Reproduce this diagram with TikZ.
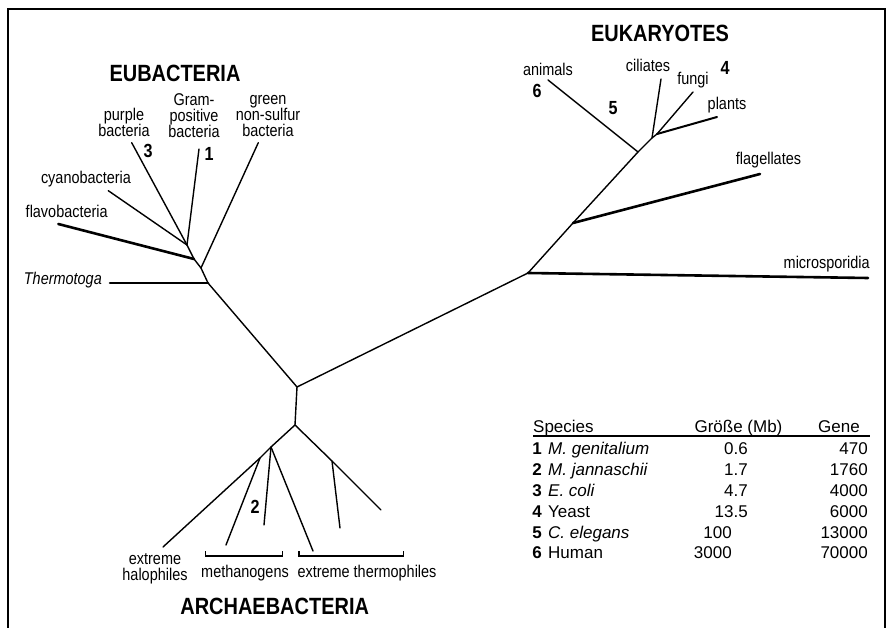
\documentclass[tikz,border=0pt]{standalone}
\usepackage{fontspec}
\setmainfont{Liberation Sans}
\newfontfamily\narrowsf{Liberation Sans}[FakeStretch=0.85]
\usetikzlibrary{positioning}

\begin{document}
\begin{tikzpicture}[x=1pt,y=-1pt,
  branch/.style={line width=1.4pt,line cap=round},
  heavy/.style={line width=2.6pt,line cap=round},
  lbl/.style={inner sep=0pt,align=center,font=\narrowsf\fontsize{17}{16}\selectfont},
  grp/.style={inner sep=0pt,font=\narrowsf\fontsize{23.5}{26}\selectfont\bfseries},
  num/.style={inner sep=0pt,font=\narrowsf\fontsize{19}{20}\selectfont\bfseries},
  tab/.style={inner sep=0pt,font=\fontsize{17}{20}\selectfont}]
\useasboundingbox (0,0) rectangle (892,628);
% frame, open at the bottom
\draw[line width=1.5pt] (8,628) -- (8,9) -- (885,9) -- (885,628);

% junctions and tips
\coordinate (root) at (297,387);
\coordinate (euA) at (187,245);
\coordinate (euB) at (194,259);
\coordinate (euC) at (201,268);
\coordinate (euD) at (208,283);
\coordinate (purple) at (131.7,142.7);
\coordinate (gram) at (199,149);
\coordinate (cyano) at (108.3,190.7);
\coordinate (flavo) at (58.3,224);
\coordinate (green) at (258.3,142.7);
\coordinate (thermo) at (110,283);
\coordinate (ek0) at (528,273);
\coordinate (ek1) at (573,223);
\coordinate (ek2) at (638,152);
\coordinate (ek3) at (652,138);
\coordinate (ek4) at (657,134);
\coordinate (micro) at (868,278);
\coordinate (flag) at (760,174);
\coordinate (anim) at (548,80);
\coordinate (cil) at (661,79);
\coordinate (fung) at (693,92);
\coordinate (plant) at (717,117);
\coordinate (ar0) at (295,425);
\coordinate (ar1) at (271,447);
\coordinate (ar2) at (260,458);
\coordinate (ar3) at (332,461);
\coordinate (halo) at (163,547);
\coordinate (meth1) at (226,545);
\coordinate (meth2) at (264,525);
\coordinate (xt1) at (313,551);
\coordinate (xt2) at (340,528);
\coordinate (xt3) at (381,510);

% eubacteria
\draw[branch] (purple) -- (euA);
\draw[branch] (gram) -- (euA);
\draw[branch] (cyano) -- (euA);
\draw[heavy] (flavo) -- (euB);
\draw[branch] (green) -- (euC);
\draw[heavy] (thermo) -- (euD);
\draw[branch] (euA) -- (euB) -- (euC) -- (euD) -- (root);
% eukaryotes
\draw[branch] (root) -- (ek0);
\draw[heavy] (ek0) -- (micro);
\draw[branch] (ek0) -- (ek1) -- (ek2) -- (ek3) -- (ek4);
\draw[heavy] (ek1) -- (flag);
\draw[branch] (ek2) -- (anim);
\draw[branch] (ek3) -- (cil);
\draw[branch] (ek4) -- (fung);
\draw[line width=2pt,line cap=round] (ek4) -- (plant);
% archaebacteria
\draw[branch] (root) -- (ar0);
\draw[branch] (ar0) -- (ar1) -- (ar2) -- (halo);
\draw[branch] (ar2) -- (meth1);
\draw[branch] (ar1) -- (meth2);
\draw[branch] (ar1) -- (xt1);
\draw[branch] (ar0) -- (ar3) -- (xt3);
\draw[branch] (ar3) -- (xt2);
\draw[line width=1.2pt] (205.7,551) -- (205.7,556) -- (282.3,556) -- (282.3,551);
\draw[line width=1.2pt] (299,551) -- (299,556) -- (403.3,556) -- (403.3,551);

% labels
\node[grp] (eubac) at (175,73) {EUBACTERIA};
\node[grp] (eukar) at (660,33) {EUKARYOTES};
\node[grp] (archae) at (274.7,606) {ARCHAEBACTERIA};
\node[lbl] (lpurple) at (124,122) {purple\\bacteria};
\node[lbl] (lgram) at (194,116) {Gram-\\positive\\bacteria};
\node[lbl] (lgreen) at (268,116) {green\\non-sulfur\\bacteria};
\node[lbl] (lcyano) at (86,179.3) {cyanobacteria};
\node[lbl] (lflavo) at (66.7,211.7) {flavobacteria};
\node[lbl,anchor=east] (lthermo) at (102,280) {\itshape Thermotoga};
\node[lbl] (lanim) at (548,69) {animals};
\node[lbl] (lcil) at (648,65) {ciliates};
\node[lbl] (lfung) at (693,80) {fungi};
\node[lbl] (lplant) at (727,105) {plants};
\node[lbl] (lflag) at (768.5,159.7) {flagellates};
\node[lbl] (lmicro) at (826.7,264) {microsporidia};
\node[lbl] (lhalo) at (155,569) {extreme\\halophiles};
\node[lbl] (lmeth) at (245,573) {methanogens};
\node[lbl] (lxt) at (367,573) {extreme thermophiles};
\node[num] (n3) at (148,151) {3};
\node[num] (n1) at (209,154) {1};
\node[num] (n6) at (537,91) {6};
\node[num] (n5) at (613,108) {5};
\node[num] (n4) at (725,68) {4};
\node[num] (n2) at (255,507) {2};

% table
\node[tab,anchor=base west] (hsp) at (533,432) {Species};
\node[tab,anchor=base] (hsz) at (738.5,432) {Größe (Mb)};
\node[tab,anchor=base east] (hge) at (860,432) {Gene};
\draw[line width=1.5pt] (533,436) -- (870,436);
\node[tab,anchor=base] (r1n) at (537,454.5) {\bfseries 1};
\node[tab,anchor=base west] (r1s) at (548,454.5) {\itshape M. genitalium};
\node[tab,anchor=base east] (r1z) at (748,454.5) {0.6};
\node[tab,anchor=base east] (r1g) at (868,454.5) {470};
\node[tab,anchor=base] (r2n) at (537,475.5) {\bfseries 2};
\node[tab,anchor=base west] (r2s) at (548,475.5) {\itshape M. jannaschii};
\node[tab,anchor=base east] (r2z) at (748,475.5) {1.7};
\node[tab,anchor=base east] (r2g) at (868,475.5) {1760};
\node[tab,anchor=base] (r3n) at (537,496) {\bfseries 3};
\node[tab,anchor=base west] (r3s) at (548,496) {\itshape E. coli};
\node[tab,anchor=base east] (r3z) at (748,496) {4.7};
\node[tab,anchor=base east] (r3g) at (868,496) {4000};
\node[tab,anchor=base] (r4n) at (537,517) {\bfseries 4};
\node[tab,anchor=base west] (r4s) at (548,517) {Yeast};
\node[tab,anchor=base east] (r4z) at (748,517) {13.5};
\node[tab,anchor=base east] (r4g) at (868,517) {6000};
\node[tab,anchor=base] (r5n) at (537,538) {\bfseries 5};
\node[tab,anchor=base west] (r5s) at (548,538) {\itshape C. elegans};
\node[tab,anchor=base east] (r5z) at (732,538) {100};
\node[tab,anchor=base east] (r5g) at (868,538) {13000};
\node[tab,anchor=base] (r6n) at (537,558) {\bfseries 6};
\node[tab,anchor=base west] (r6s) at (548,558) {Human};
\node[tab,anchor=base east] (r6z) at (732,558) {3000};
\node[tab,anchor=base east] (r6g) at (868,558) {70000};
\end{tikzpicture}
\end{document}
